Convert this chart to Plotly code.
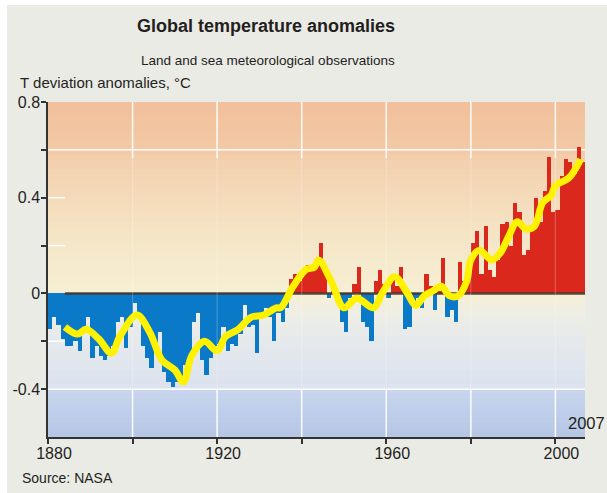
import plotly.graph_objects as go

# ---- data -------------------------------------------------------------
years = list(range(1880, 2007))
anomaly = [
    -0.15, -0.10, -0.13, -0.19, -0.22, -0.22, -0.20, -0.24, -0.15, -0.10,  # 1880s
    -0.27, -0.22, -0.26, -0.28, -0.26, -0.22, -0.12, -0.10, -0.23, -0.14,  # 1890s
    -0.04, -0.10, -0.22, -0.27, -0.31, -0.21, -0.16, -0.33, -0.37, -0.39,  # 1900s
    -0.37, -0.37, -0.30, -0.29, -0.12, -0.08, -0.28, -0.34, -0.27, -0.22,  # 1910s
    -0.21, -0.14, -0.24, -0.21, -0.22, -0.17, -0.05, -0.14, -0.13, -0.25,  # 1920s
    -0.10, -0.06, -0.10, -0.20, -0.08, -0.12, -0.06, 0.06, 0.08, 0.05,     # 1930s
    0.10, 0.12, 0.11, 0.13, 0.21, 0.11, -0.02, 0.01, -0.04, -0.12,         # 1940s
    -0.16, -0.02, 0.04, 0.11, -0.12, -0.14, -0.20, 0.05, 0.10, 0.04,       # 1950s
    -0.02, 0.07, 0.03, 0.11, -0.15, -0.14, -0.04, -0.02, -0.06, 0.08,      # 1960s
    0.03, -0.07, 0.01, 0.15, -0.10, -0.07, -0.12, 0.13, 0.05, 0.12,        # 1970s
    0.21, 0.26, 0.08, 0.28, 0.10, 0.07, 0.14, 0.29, 0.30, 0.20,            # 1980s
    0.38, 0.34, 0.16, 0.18, 0.27, 0.40, 0.30, 0.43, 0.57, 0.34,            # 1990s
    0.35, 0.49, 0.56, 0.55, 0.50, 0.61, 0.55,                              # 2000s
]

# five-year running mean
smooth_years = [1884, 1887, 1889, 1892, 1895, 1897, 1901, 1904, 1907, 1910,
                1912, 1914, 1917, 1920, 1922, 1925, 1928, 1931, 1934, 1935,
                1938, 1941, 1943, 1944, 1947, 1950, 1953, 1957, 1959, 1962,
                1965, 1967, 1969, 1971, 1973, 1975, 1977, 1979, 1980, 1982,
                1985, 1987, 1989, 1991, 1993, 1995, 1997, 1999, 2000, 2003,
                2004, 2006]
smooth_vals = [-0.14, -0.17, -0.15, -0.19, -0.25, -0.18, -0.09, -0.16, -0.28, -0.32,
               -0.37, -0.26, -0.20, -0.24, -0.18, -0.15, -0.10, -0.09, -0.06, -0.06,
               0.03, 0.10, 0.11, 0.14, 0.05, -0.06, -0.02, -0.06, 0.00, 0.07,
               0.00, -0.05, -0.01, 0.01, 0.03, -0.01, -0.01, 0.05, 0.14, 0.18,
               0.14, 0.17, 0.24, 0.30, 0.27, 0.28, 0.38, 0.41, 0.45, 0.48,
               0.50, 0.56]

y_ticks = [-0.4, -0.2, 0, 0.2, 0.4, 0.6, 0.8]
y_labels = ["-0.4", "", "0", "", "0.4", "", "0.8"]
x_ticks = [1880, 1900, 1920, 1940, 1960, 1980, 2000]
x_labels = ["1880", "", "1920", "", "1960", "", "2000"]

# ---- layout geometry -------------------------------------------------------
W, H = 607, 493
L, R, T, B = 48, 22, 102, 56
PW = W - L - R
PH = H - T - B
X0, X1 = 1880, 2007
Y0, Y1 = -0.6, 0.8

FONT = "Liberation Sans Narrow, Arial Narrow, Liberation Sans, Arial, sans-serif"
INK = "#231f20"
RED = "#da281d"
BLUE = "#0a79c8"
YELLOW = "#fff200"


def px_x(p):
    return (p - L) / PW


def px_y(p):
    return (H - B - p) / PH


# background colour ramp (value, rgb); a step at -0.4 marks the lower band
ramp = [(-0.6, (181, 198, 230)), (-0.4, (200, 213, 237)),
        (-0.4, (219, 226, 238)), (-0.2, (229, 233, 237)),
        (-0.08, (239, 238, 228)), (0.0, (246, 239, 212)),
        (0.2, (245, 231, 201)), (0.4, (244, 219, 186)),
        (0.56, (243, 207, 173)), (0.6, (243, 201, 166)),
        (0.8, (241, 192, 155))]


def ramp_color(v):
    for (a, ca), (b, cb) in zip(ramp[:-1], ramp[1:]):
        if a <= v <= b and b > a:
            t = (v - a) / (b - a)
            c = [round(ca[i] + (cb[i] - ca[i]) * t) for i in range(3)]
            return "rgb(%d,%d,%d)" % tuple(c)
    return "rgb(%d,%d,%d)" % ramp[-1][1]


shapes = []
# grey panel behind everything
shapes.append(dict(type="rect", xref="paper", yref="paper",
                   x0=px_x(7), x1=px_x(W) + 0.02, y0=px_y(H) - 0.02, y1=px_y(5),
                   fillcolor="#ebebe6", line=dict(width=0), layer="below"))
# graded plot background
n = 70
step = (Y1 - Y0) / n
for i in range(n):
    a = Y0 + i * step
    b = a + step
    shapes.append(dict(type="rect", xref="paper", yref="y",
                       x0=0, x1=1, y0=a, y1=min(b + 0.004, Y1),
                       fillcolor=ramp_color((a + b) / 2),
                       line=dict(width=0), layer="below"))

GRID = "rgba(255,255,255,0.95)"
for gy in (0.6, -0.4):
    shapes.append(dict(type="line", xref="x", yref="y", x0=X0, x1=X1, y0=gy, y1=gy,
                       line=dict(color=GRID, width=1.5), layer="below"))
for gy in (0.4, 0.2, -0.2):
    shapes.append(dict(type="line", xref="x", yref="y", x0=X0, x1=1884, y0=gy, y1=gy,
                       line=dict(color=GRID, width=1.5), layer="below"))
for gx in x_ticks[1:]:
    shapes.append(dict(type="line", xref="x", yref="y", x0=gx, x1=gx, y0=0.565, y1=Y1,
                       line=dict(color=GRID, width=1.5), layer="below"))
    shapes.append(dict(type="line", xref="x", yref="y", x0=gx, x1=gx, y0=Y0, y1=-0.4,
                       line=dict(color=GRID, width=1.5), layer="below"))
    shapes.append(dict(type="line", xref="x", yref="y", x0=gx, x1=gx, y0=-0.4, y1=0.565,
                       line=dict(color="rgba(255,255,255,0.22)", width=1.2), layer="above"))

fig = go.Figure()
fig.add_trace(go.Bar(
    x=years, y=anomaly, width=1, offset=0,
    marker=dict(color=[RED if v > 0 else BLUE for v in anomaly], line=dict(width=0)),
    hoverinfo="skip", showlegend=False,
))
# dark baseline under the bars
fig.add_trace(go.Scatter(
    x=[1884, X1], y=[0, 0], mode="lines",
    line=dict(color="rgba(72,52,42,0.9)", width=2.5),
    hoverinfo="skip", showlegend=False,
))
fig.add_trace(go.Scatter(
    x=smooth_years, y=smooth_vals, mode="lines",
    line=dict(color=YELLOW, width=7, shape="spline", smoothing=1.0),
    hoverinfo="skip", showlegend=False,
))

annotations = [
    dict(text="<b>Global temperature anomalies</b>", x=px_x(266), y=px_y(26),
         xanchor="center", yanchor="middle", font=dict(size=18, color=INK)),
    dict(text="Land and sea meteorological observations", x=px_x(268), y=px_y(60),
         xanchor="center", yanchor="middle", font=dict(size=13.5, color=INK)),
    dict(text="T deviation anomalies, °C", x=px_x(18), y=px_y(82),
         xanchor="left", yanchor="middle", font=dict(size=15, color=INK)),
    dict(text="Source: NASA", x=px_x(20), y=px_y(478),
         xanchor="left", yanchor="middle", font=dict(size=14, color=INK)),
    dict(text="2007", x=px_x(607), y=px_y(423),
         xanchor="right", yanchor="middle", font=dict(size=16.5, color=INK)),
]
for a in annotations:
    a.update(xref="paper", yref="paper", showarrow=False, font_family=FONT)

AXIS = "#333333"
fig.update_layout(
    width=W, height=H,
    margin=dict(l=L, r=R, t=T, b=B, autoexpand=False),
    paper_bgcolor="white", plot_bgcolor="#f4e9d4",
    font=dict(family=FONT, color=INK),
    bargap=0, showlegend=False,
    shapes=shapes, annotations=annotations,
    xaxis=dict(range=[X0, X1], tickvals=x_ticks, ticktext=x_labels,
               ticks="outside", ticklen=5, tickwidth=1.5, tickcolor=AXIS,
               showline=True, linecolor=AXIS, linewidth=1.5,
               showgrid=False, zeroline=False, ticklabelshift=6,
               ticklabelstandoff=-4,
               tickfont=dict(size=16, color=INK, family=FONT)),
    yaxis=dict(range=[Y0, Y1], tickvals=y_ticks, ticktext=y_labels,
               ticks="outside", ticklen=5, tickwidth=1.5, tickcolor=AXIS,
               showline=True, linecolor=AXIS, linewidth=1.5,
               showgrid=False, zeroline=False, ticklabelstandoff=-2,
               tickfont=dict(size=16, color=INK, family=FONT)),
)

fig.write_html("out.html")
